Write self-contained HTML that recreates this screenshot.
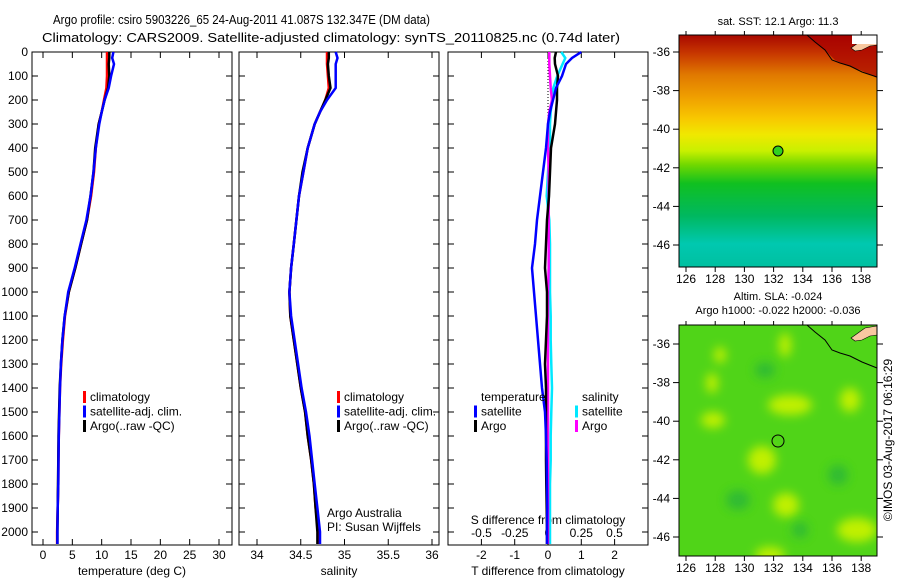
<!DOCTYPE html>
<html><head><meta charset="utf-8"><style>
html,body{margin:0;padding:0;background:#fff;}
svg{display:block;font-family:"Liberation Sans",sans-serif;}
</style></head><body>
<svg id="fig" width="900" height="580" viewBox="0 0 900 580" xmlns="http://www.w3.org/2000/svg">
<defs>
<linearGradient id="sstg" x1="0" y1="0" x2="0" y2="1">
<stop offset="0" stop-color="#a80800"/><stop offset="0.08" stop-color="#c83800"/>
<stop offset="0.17" stop-color="#e07800"/><stop offset="0.27" stop-color="#f0a000"/>
<stop offset="0.36" stop-color="#f8c800"/><stop offset="0.43" stop-color="#f0e800"/>
<stop offset="0.5" stop-color="#c8f000"/><stop offset="0.56" stop-color="#70d800"/>
<stop offset="0.64" stop-color="#10c020"/><stop offset="0.78" stop-color="#00b860"/>
<stop offset="0.9" stop-color="#00c8b0"/><stop offset="1" stop-color="#00c0a0"/>
</linearGradient>
<filter id="blur"><feGaussianBlur stdDeviation="5"/></filter>
<clipPath id="c2"><rect x="679" y="325" width="198" height="231"/></clipPath>
</defs>
<text x="53" y="24" font-size="13" textLength="377" lengthAdjust="spacingAndGlyphs">Argo profile: csiro 5903226_65 24-Aug-2011 41.087S 132.347E (DM data)</text>
<text x="42" y="42" font-size="13" textLength="578" lengthAdjust="spacingAndGlyphs">Climatology: CARS2009. Satellite-adjusted climatology: synTS_20110825.nc (0.74d later)</text>
<g id="plots"></g>

<g>
<text x="778" y="25" font-size="11" text-anchor="middle">sat. SST: 12.1 Argo: 11.3</text>
<rect x="679" y="35" width="198" height="232" fill="url(#sstg)"/>
<path d="M807,35 L825,50 L835,60 L845,65 L860,70 L877,78 L877,35Z" fill="#a80000" opacity="0.7"/>
<path d="M807,35 L815,42 L825,50 L832,60 L840,63 L850,66 L862,72 L877,77" fill="none" stroke="#000" stroke-width="1"/>
<path d="M851,48 L858,43 L865,38 L877,36 L877,45 L870,46 L862,50 L855,51Z" fill="#f8c8a0" stroke="#000" stroke-width="0.6"/>
<rect x="852" y="35" width="25" height="9" fill="#fff"/>
<circle cx="778" cy="151" r="5" fill="#30d020" stroke="#000"/>
</g>
<g>
<text x="778" y="300" font-size="11" text-anchor="middle">Altim. SLA: -0.024</text>
<text x="778" y="314" font-size="11" text-anchor="middle">Argo h1000: -0.022 h2000: -0.036</text>
<rect x="679" y="325" width="198" height="231" fill="#50d418"/>
<g filter="url(#blur)" fill="#c0f000" clip-path="url(#c2)">
<ellipse cx="785" cy="345" rx="6" ry="12"/><ellipse cx="720" cy="355" rx="6" ry="8"/>
<ellipse cx="790" cy="405" rx="22" ry="10"/><ellipse cx="850" cy="400" rx="10" ry="12"/>
<ellipse cx="713" cy="420" rx="12" ry="8"/><ellipse cx="762" cy="460" rx="14" ry="14"/>
<ellipse cx="786" cy="505" rx="13" ry="12"/><ellipse cx="857" cy="530" rx="20" ry="12"/>
<ellipse cx="770" cy="555" rx="15" ry="8"/><ellipse cx="712" cy="383" rx="6" ry="10"/>
</g>
<g filter="url(#blur)" fill="#20b040" opacity="0.7" clip-path="url(#c2)">
<ellipse cx="738" cy="500" rx="12" ry="10"/><ellipse cx="838" cy="475" rx="10" ry="10"/>
<ellipse cx="765" cy="370" rx="10" ry="8"/><ellipse cx="800" cy="530" rx="8" ry="8"/>
</g>
<path d="M807,325 L815,332 L825,340 L832,350 L840,353 L850,356 L862,362 L877,368" fill="none" stroke="#000" stroke-width="1"/>
<path d="M851,338 L858,333 L865,328 L877,326 L877,335 L870,336 L862,340 L855,341Z" fill="#f8c8a0" stroke="#000" stroke-width="0.6"/>
<circle cx="778" cy="441" r="6" fill="none" stroke="#000"/>
</g>
<text transform="translate(892,440) rotate(-90)" font-size="12" text-anchor="middle">©IMOS 03-Aug-2017 06:16:29</text>
<g id="mapaxes"></g>
</svg>
<script>
const depths=[0,25,50,100,150,200,250,300,400,500,600,700,800,900,1000,1100,1200,1300,1400,1500,1600,1700,1800,1900,2000,2050];
const tempClim=[10.9,10.9,10.9,10.9,10.8,10.4,10.0,9.5,9.0,8.7,8.2,7.5,6.5,5.5,4.4,3.75,3.4,3.1,2.9,2.8,2.7,2.65,2.6,2.5,2.4,2.4];
const tempSat=[12.0,11.8,12.1,11.6,11.2,10.5,10.0,9.6,9.0,8.6,8.1,7.4,6.4,5.4,4.3,3.7,3.3,3.05,2.9,2.8,2.7,2.65,2.6,2.5,2.45,2.45];
const tempArgo=[11.3,11.3,11.2,11.3,11.1,10.5,10.0,9.5,8.9,8.6,8.1,7.5,6.5,5.5,4.4,3.7,3.3,3.05,2.85,2.75,2.65,2.6,2.55,2.5,2.45,2.45];
const salClim=[34.8,34.8,34.8,34.81,34.82,34.78,34.72,34.66,34.58,34.53,34.48,34.45,34.42,34.39,34.37,34.38,34.42,34.46,34.5,34.55,34.58,34.62,34.65,34.67,34.7,34.7];
const salSat=[34.9,34.92,34.9,34.9,34.9,34.8,34.72,34.66,34.58,34.53,34.48,34.45,34.42,34.39,34.37,34.39,34.43,34.47,34.51,34.56,34.6,34.63,34.66,34.69,34.72,34.72];
const salArgo=[34.82,34.82,34.81,34.82,34.84,34.78,34.72,34.66,34.58,34.52,34.48,34.45,34.42,34.39,34.37,34.38,34.42,34.46,34.5,34.55,34.58,34.62,34.65,34.67,34.69,34.69];
const dTsat=[1.0,0.72,0.54,0.42,0.24,0.15,0.06,0.0,-0.06,-0.15,-0.24,-0.33,-0.39,-0.48,-0.42,-0.36,-0.3,-0.24,-0.18,-0.09,-0.06,-0.04,-0.03,-0.02,-0.03,-0.03];
const dTargo=[0.24,0.2,0.21,0.3,0.27,0.27,0.24,0.21,0.09,0.06,0.03,-0.03,-0.06,-0.09,-0.03,-0.03,-0.06,-0.09,-0.06,-0.06,-0.06,-0.06,-0.05,-0.04,-0.03,-0.03];
const dSsat=[0.1,0.13,0.11,0.07,0.04,0.03,0.02,0.015,0.015,0.0,-0.01,0.01,0.015,0.015,0.015,0.02,0.02,0.025,0.03,0.025,0.02,0.02,0.015,0.015,0.015,0.015];
const dSargo=[0.01,0.01,0.01,0.015,0.02,0.03,0.01,0.0,0.0,0.005,0.005,0.005,0.005,0.005,0.0,0.0,0.0,0.0,0.0,0.0,0.0,0.0,0.0,0.0,0.0,0.0];
const depthTicks=[0,100,200,300,400,500,600,700,800,900,1000,1100,1200,1300,1400,1500,1600,1700,1800,1900,2000];
const tempTicks=[0,5,10,15,20,25,30];
const salTicks=["34","34.5","35","35.5","36"];
const dTTicks=[-2,-1,0,1,2];
const dSTicks=["-0.5","-0.25","0","0.25","0.5"];
const latTicks=[-36,-38,-40,-42,-44,-46];
const lonTicks=[126,128,130,132,134,136,138];

const NS='http://www.w3.org/2000/svg';
const g=document.getElementById('plots');
function mk(tag,attrs,parent){const e=document.createElementNS(NS,tag);for(const k in attrs)e.setAttribute(k,attrs[k]);(parent||g).appendChild(e);return e;}
const yD=d=>52+d*0.24;
const xT=t=>43+t*5.867;
const xS=s=>257+(s-34)*87.5;
const xdT=v=>548+v*33.3;
const xdS=v=>548+v*133;
const panels=[[32,232],[239,439],[448,648]];
panels.forEach((p,i)=>{
  const r=mk('rect',{x:p[0],y:52,width:p[1]-p[0],height:493,fill:'none',stroke:'#000','stroke-width':1});
  
  
  depthTicks.forEach(d=>{mk('line',{x1:p[0],x2:p[0]+6,y1:yD(d),y2:yD(d),stroke:'#000'});mk('line',{x1:p[1],x2:p[1]-6,y1:yD(d),y2:yD(d),stroke:'#000'});});
});
depthTicks.forEach(d=>{const t=mk('text',{x:28,y:yD(d)+4,'font-size':12,'text-anchor':'end'});t.textContent=d;
  
  });
function xticks(vals,fx,labY){vals.forEach(v=>{const x=fx(+v);
  mk('line',{x1:x,x2:x,y1:545,y2:539,stroke:'#000'});
  mk('line',{x1:x,x2:x,y1:52,y2:58,stroke:'#000'});
  const t=mk('text',{x:x,y:labY,'font-size':12,'text-anchor':'middle'});t.textContent=v;
  
  });}
xticks(tempTicks,xT,559);
xticks(salTicks,xS,559);
xticks(dTTicks,xdT,559);
dSTicks.forEach(v=>{const x=xdS(+v);const t=mk('text',{x:x,y:537,'font-size':12,'text-anchor':'middle'});t.textContent=v;
  
  });
[['temperature (deg C)',132,'x-axis-title-temperature'],['salinity',339,'x-axis-title-salinity'],['T difference from climatology',548,'x-axis-title-tdiff']].forEach(a=>{
  const t=mk('text',{x:a[1],y:575,'font-size':12,'text-anchor':'middle'});t.textContent=a[0];
  
  });
const st=mk('text',{x:548,y:524,'font-size':12,'text-anchor':'middle'});st.textContent='S difference from climatology';


mk('line',{x1:548,x2:548,y1:52,y2:545,stroke:'#000','stroke-dasharray':'1,2'});
function line(vals,fx,color,name,w){
  const pts=vals.map((v,i)=>fx(v).toFixed(1)+','+yD(depths[i]).toFixed(1)).join(' ');
  const e=mk('polyline',{points:pts,fill:'none',stroke:color,'stroke-width':w||2.5});
  
  
}
line(tempClim,xT,'#ff0000','temp-climatology-line');
line(tempArgo,xT,'#000000','temp-argo-line');
line(tempSat,xT,'#0000ff','temp-satellite-line');
line(salClim,xS,'#ff0000','sal-climatology-line');
line(salArgo,xS,'#000000','sal-argo-line');
line(salSat,xS,'#0000ff','sal-satellite-line');
line(dSsat,xdS,'#00e8ff','sdiff-satellite-line');
line(dSargo,xdS,'#ff00ff','sdiff-argo-line');
line(dTargo,xdT,'#000000','tdiff-argo-line');
line(dTsat,xdT,'#0000ff','tdiff-satellite-line');
function legend(x,y,items){items.forEach((it,i)=>{
  if(it[1])mk('rect',{x:x,y:y+i*14.5-6,width:3,height:12,fill:it[1]});
  const t=mk('text',{x:x+7,y:y+i*14.5+4,'font-size':12});t.textContent=it[0];
  
  });}
legend(83,397,[['climatology','#ff0000'],['satellite-adj. clim.','#0000ff'],['Argo(..raw -QC)','#000']]);
legend(337,397,[['climatology','#ff0000'],['satellite-adj. clim.','#0000ff'],['Argo(..raw -QC)','#000']]);
legend(474,397,[['temperature',null],['satellite','#0000ff'],['Argo','#000']]);
legend(575,397,[['salinity',null],['satellite','#00e8ff'],['Argo','#ff00ff']]);
const c1=mk('text',{x:327,y:517,'font-size':12});c1.textContent='Argo Australia';


const c2=mk('text',{x:327,y:531,'font-size':12});c2.textContent='PI: Susan Wijffels';


const ma=document.getElementById('mapaxes');
const xLon=l=>686+(l-126)*14.6;
[[35,267,52],[325,556,344]].forEach((m,mi)=>{
  mk('rect',{x:679,y:m[0],width:198,height:m[1]-m[0],fill:'none',stroke:'#000'},ma);
  latTicks.forEach(l=>{const y=m[2]+(-36-l)*19.3;
    mk('line',{x1:679,x2:673,y1:y,y2:y,stroke:'#000'},ma);mk('line',{x1:877,x2:883,y1:y,y2:y,stroke:'#000'},ma);
    const t=mk('text',{x:670,y:y+4,'font-size':12,'text-anchor':'end'},ma);t.textContent=l;
    
    });
  lonTicks.forEach(l=>{const x=xLon(l);
    mk('line',{x1:x,x2:x,y1:m[1],y2:m[1]+5,stroke:'#000'},ma);mk('line',{x1:x,x2:x,y1:m[0],y2:m[0]-4,stroke:'#000'},ma);
    const t=mk('text',{x:x,y:m[1]+16,'font-size':12,'text-anchor':'middle'},ma);t.textContent=l;
    
    });
});
</script>
</body></html>
